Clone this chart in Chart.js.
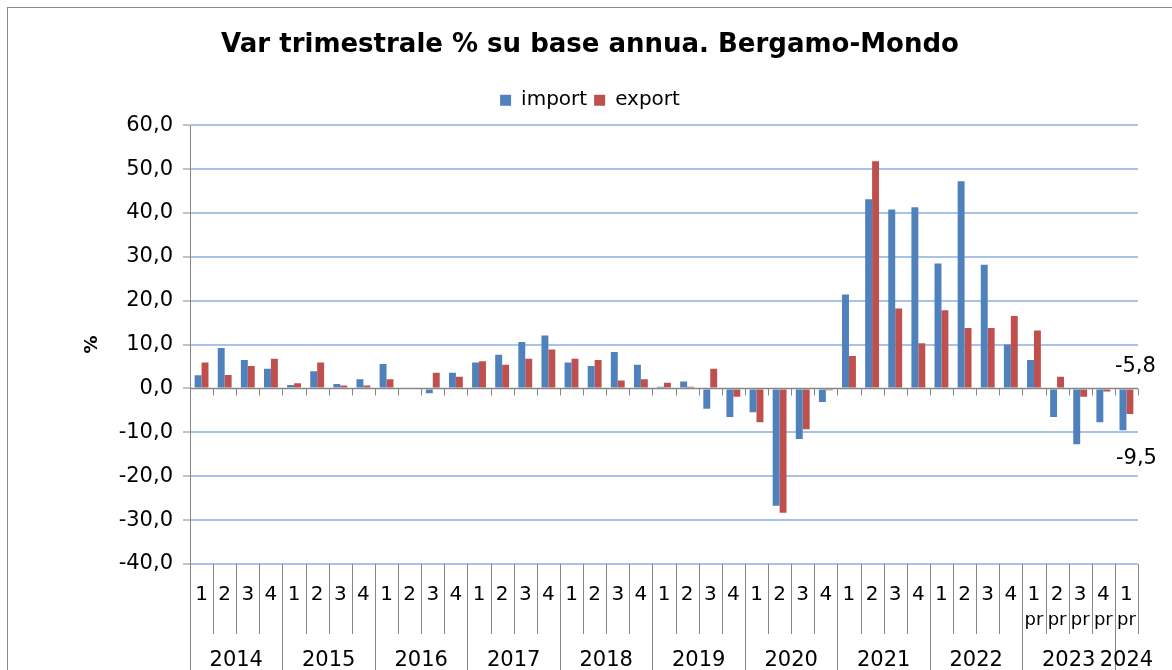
<!DOCTYPE html>
<html><head><meta charset="utf-8">
<script src="https://cdn.jsdelivr.net/npm/chart.js@4.4.1/dist/chart.umd.min.js"></script>
<style>html,body{margin:0;padding:0;background:#fff}#wrap{width:1172px;height:670px;position:relative}canvas{display:block}</style>
</head><body><div id="wrap"><canvas id="c" width="1172" height="670" style="width:1172px;height:670px"></canvas></div>
<script>
const FONT = "'DejaVu Sans', Verdana, sans-serif";
const titleText = 'Var trimestrale % su base annua. Bergamo-Mondo';
const quarterLabels = ['1','2','3','4','1','2','3','4','1','2','3','4','1','2','3','4','1','2','3','4','1','2','3','4','1','2','3','4','1','2','3','4','1','2','3','4','1','2','3','4','1'];
const prelimLabels = ['','','','','','','','','','','','','','','','','','','','','','','','','','','','','','','','','','','','','pr','pr','pr','pr','pr'];
const yearLabels = ['2014','2015','2016','2017','2018','2019','2020','2021','2022','2023','2024'];
const yearSpans = [4,4,4,4,4,4,4,4,4,4,1];
const importValues = [3.0,9.2,6.5,4.5, 0.8,3.9,1.0,2.1, 5.6,0.0,-1.1,3.6, 5.9,7.7,10.6,12.1, 5.9,5.1,8.3,5.4, 0.4,1.6,-4.6,-6.5, -5.4,-26.7,-11.5,-3.1, 21.4,43.1,40.8,41.3, 28.5,47.2,28.2,10.0, 6.5,-6.5,-12.7,-7.7, -9.5];
const exportValues = [5.9,3.1,5.1,6.8, 1.2,5.9,0.7,0.7, 2.1,0.0,3.6,2.7, 6.2,5.4,6.8,8.9, 6.8,6.5,1.8,2.1, 1.3,0.4,4.5,-1.9, -7.7,-28.3,-9.3,-0.4, 7.4,51.8,18.2,10.3, 17.8,13.8,13.8,16.5, 13.2,2.7,-1.9,-0.7, -5.8];
const yTicks = {min:-40, max:60, step:10};

const fmt = v => v.toFixed(1).replace('.', ',');
const categories = quarterLabels.map((q,i)=> q + (prelimLabels[i] ? ' ' + prelimLabels[i] : ''));

const bgPlugin = {
  id:'bg',
  afterInit(chart){
    const lg = chart.legend;
    if (lg && !lg._patched){
      const f = lg.fit;
      lg.fit = function(){ f.call(this); this.height += 5; };
      lg._patched = true;
    }
  },
  beforeDraw(chart){
    const ctx = chart.ctx;
    ctx.save();
    ctx.fillStyle = '#fff';
    ctx.fillRect(0,0,chart.width,chart.height);
    ctx.strokeStyle = '#8a8a8a'; ctx.lineWidth = 1;
    ctx.strokeRect(7.5,7.5,1200,700);
    ctx.restore();
  }
};

const axisPlugin = {
  id:'xaxis',
  afterDatasetsDraw(chart){
    const ctx = chart.ctx, xs = chart.scales.x, ys = chart.scales.y, a = chart.chartArea;
    const n = categories.length;
    const cw = xs.getPixelForValue(1) - xs.getPixelForValue(0);
    const bnd = i => xs.getPixelForValue(i) - cw/2;
    const y0 = Math.round(ys.getPixelForValue(0)) + 0.5;
    ctx.save();
    ctx.strokeStyle = '#868686'; ctx.lineWidth = 1.5;
    ctx.beginPath(); ctx.moveTo(a.left, y0); ctx.lineTo(a.right, y0); ctx.stroke();
    ctx.lineWidth = 1;
    ctx.beginPath();
    for (let i=1;i<=n;i++){ const x = Math.round(bnd(i))+0.5; ctx.moveTo(x,y0); ctx.lineTo(x,y0+7); }
    ctx.stroke();
    const yearBounds = new Set([0]); let c=0; yearSpans.forEach(s=>{c+=s; yearBounds.add(c);});
    ctx.beginPath();
    for (let i=0;i<=n;i++){
      const x = Math.round(bnd(i))+0.5;
      ctx.moveTo(x, a.bottom);
      ctx.lineTo(x, (yearBounds.has(i) && i<n) ? chart.height : a.bottom+70);
    }
    ctx.stroke();
    ctx.fillStyle = '#000';
    ctx.textAlign = 'center'; ctx.textBaseline = 'middle';
    ctx.font = '20px ' + FONT;
    quarterLabels.forEach((q,i)=> ctx.fillText(q, xs.getPixelForValue(i), a.bottom+31));
    ctx.font = '18px ' + FONT;
    prelimLabels.forEach((p,i)=> { if(p) ctx.fillText(p, xs.getPixelForValue(i), a.bottom+56); });
    ctx.font = '21px ' + FONT;
    let start = 0;
    yearLabels.forEach((y,k)=>{
      const x = (bnd(start) + bnd(start+yearSpans[k]))/2;
      ctx.fillText(y, x, a.bottom+97);
      start += yearSpans[k];
    });
    const last = n-1;
    const eEl = chart.getDatasetMeta(1).data[last];
    const iEl = chart.getDatasetMeta(0).data[last];
    ctx.font = '21px ' + FONT;
    ctx.textAlign = 'left';
    ctx.fillText(fmt(exportValues[last]), eEl.x - 15, ys.getPixelForValue(0) - 22);
    ctx.fillText(fmt(importValues[last]), iEl.x - 7, iEl.y + 28);
    ctx.restore();
  }
};

new Chart(document.getElementById('c'), {
  type:'bar',
  data:{
    labels: categories,
    datasets:[
      {label:'import', data: importValues, backgroundColor:'#4f81bd', borderWidth:0},
      {label:'export', data: exportValues, backgroundColor:'#c0504d', borderWidth:0}
    ]
  },
  plugins:[bgPlugin, axisPlugin],
  options:{
    responsive:false, animation:false, devicePixelRatio:1,
    layout:{padding:{top:0,right:0,bottom:106,left:8}},
    datasets:{bar:{categoryPercentage:0.6, barPercentage:1.0}},
    plugins:{
      title:{display:true, text:titleText, color:'#000', font:{family:FONT, size:26, weight:'bold'}, padding:{top:30,bottom:22}},
      legend:{display:true, position:'top', labels:{color:'#000', font:{family:FONT, size:20}, boxWidth:11, boxHeight:11, padding:7}},
      tooltip:{enabled:false}
    },
    scales:{
      x:{display:false, offset:true},
      y:{
        min:yTicks.min, max:yTicks.max,
        ticks:{stepSize:yTicks.step, callback:v=>fmt(v), color:'#000', font:{family:FONT, size:21}, padding:10},
        grid:{color:c=> (c.tick && c.tick.value===0) ? 'rgba(0,0,0,0)' : '#a9c2e8', lineWidth:2, tickColor:'#868686', tickLength:7, tickWidth:1},
        border:{color:'#868686', width:1},
        title:{display:true, text:'%', color:'#000', font:{family:FONT, size:18, weight:'bold'}, padding:{top:74,bottom:0}},
        afterFit(s){ s.width = 182; }
      },
      yPad:{
        position:'right', display:true,
        ticks:{display:false}, grid:{display:false, drawTicks:false}, border:{display:false},
        afterFit(s){ s.width = 34; }
      }
    }
  }
});
</script>
</body></html>
